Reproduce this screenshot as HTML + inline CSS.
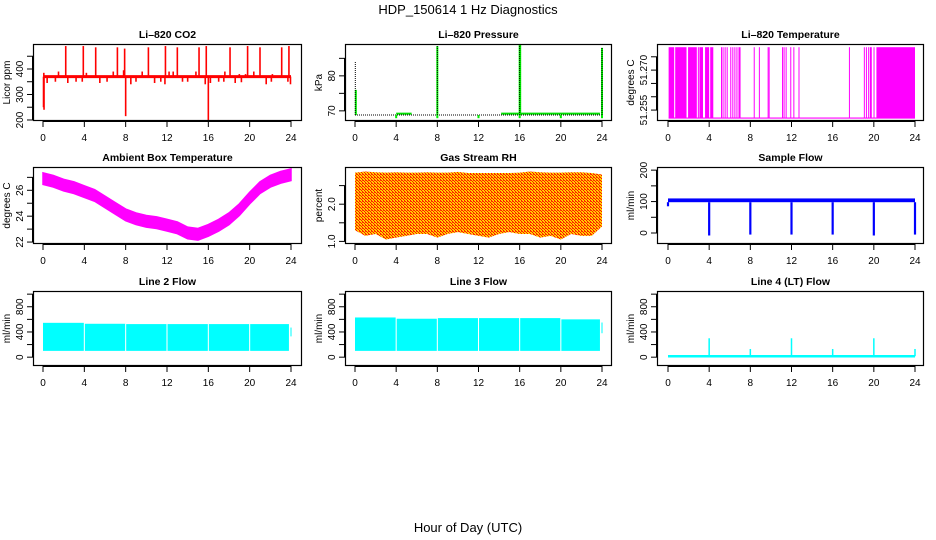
<!DOCTYPE html>
<html><head><meta charset="utf-8"><title>HDP_150614 1 Hz Diagnostics</title>
<style>
html,body{margin:0;padding:0;background:#fff;}
svg{display:block;font-family:"Liberation Sans",Arial,sans-serif;}
</style></head>
<body>
<svg id="chart" width="936" height="540" viewBox="0 0 936 540">
<defs>
<pattern id="rhpat" width="3" height="3" patternUnits="userSpaceOnUse">
<rect width="3" height="3" fill="#ffd000"/>
<rect x="0" y="0" width="1" height="1" fill="#ff1000"/>
<rect x="1" y="1" width="1" height="1" fill="#ff1000"/>
<rect x="2" y="2" width="1" height="1" fill="#ff1000"/>
<rect x="2" y="0" width="1" height="1" fill="#ff4000"/>
</pattern>
</defs>
<text x="468" y="14" text-anchor="middle" font-size="13">HDP_150614  1 Hz Diagnostics</text>
<text x="468" y="532" text-anchor="middle" font-size="13">Hour of Day (UTC)</text>
</svg>
<script>
// ---------- data ----------
const xTicks = [0,4,8,12,16,20,24];

const co2Base = 370;
const co2EventHours  = [0.05,0.08,0.1,0.4,1.2,1.5,2.2,2.4,3.2,3.8,3.9,4.2,5.1,5.5,6.2,6.8,7.2,7.8,7.9,8.0,8.5,9.0,9.6,10.2,10.8,11.4,11.8,11.85,12.2,12.6,13.0,13.5,14.0,14.8,15.1,15.7,15.8,16.0,16.2,17.0,17.5,17.6,18.1,18.6,19.0,19.2,19.6,19.8,20.4,21.0,21.6,22.1,22.2,23.1,23.7,23.8,23.95];
const co2EventValues = [250,385,240,345,350,390,490,345,350,350,490,385,485,345,350,390,485,395,480,215,340,350,390,485,345,350,340,490,390,390,485,350,350,390,485,340,490,200,345,350,350,390,485,345,380,348,380,490,390,485,340,350,380,485,350,490,340];

const presBase = 68.8;
const presGreenStarts = [4.0,14.2];
const presGreenEnds   = [5.5,23.8];
const presGreenValue  = 69.2;
const presSpikeHours  = [0.08,8.0,16.0,16.05,24.0];
const presSpikeValues = [76,88.5,89,89,88];
const presBlackSpikeHours  = [0.03,8.0,16.0,24.0];
const presBlackSpikeValues = [84,88.5,89,88];
const presDipHours = [4,8,12,16,20,24];
const presDipValues = [67.9,67.9,67.9,67.9,67.9,67.9];

const tempLow = 51.252, tempHigh = 51.2786;
const tempStarts = [0.06,0.7,1.95,2.9,3.05,3.6,4.1,5.15,5.3,5.5,5.7,6.05,6.25,6.45,6.65,6.85,6.95,8.33,8.83,9.68,9.78,11.08,11.23,11.43,11.88,12.18,12.68,17.58,19.03,19.23,19.45,19.62,19.97,20.25];
const tempEnds   = [0.6,1.8,2.8,3.0,3.4,4.0,4.4,5.2,5.35,5.6,5.8,6.1,6.3,6.5,6.7,6.9,7.05,8.38,8.88,9.73,9.83,11.13,11.28,11.48,11.93,12.23,12.73,17.63,19.08,19.28,19.55,19.8,20.02,24.0];

const ambHours  = [0,1,2,3,4,5,6,7,8,9,10,11,12,13,14,15,16,17,18,19,20,21,22,23,24];
const ambValues = [26.9,26.7,26.4,26.2,25.9,25.6,25.1,24.6,24.1,23.8,23.6,23.5,23.3,23.1,22.7,22.6,22.9,23.3,23.8,24.5,25.4,26.2,26.7,27.0,27.2];

const rhHours  = [0,1,2,3,4,5,6,7,8,9,10,11,12,13,14,15,16,17,18,19,20,21,22,23,24];
const rhTop    = [2.85,2.88,2.86,2.85,2.86,2.85,2.85,2.86,2.85,2.85,2.87,2.84,2.84,2.84,2.84,2.84,2.85,2.88,2.86,2.85,2.85,2.86,2.86,2.84,2.8];
const rhBottom = [1.3,1.15,1.2,1.05,1.1,1.15,1.2,1.2,1.1,1.2,1.25,1.2,1.15,1.1,1.2,1.25,1.2,1.2,1.1,1.15,1.05,1.2,1.15,1.15,1.4];

const sfLow = 98, sfHigh = 110;
const sfDipHours  = [0.0,4.0,8.0,12.0,16.0,20.0,24.0];
const sfDipValues = [85,-8,-5,-5,-5,-8,-5];

const l2Starts = [0.0,4.05,8.05,12.05,16.05,20.05,23.95];
const l2Ends   = [3.95,7.95,11.95,15.95,19.95,23.8,24.05];
const l2Top    = [545,530,525,525,525,525,470];
const l2Bottom = [100,100,100,100,100,100,330];

const l3Starts = [0.0,4.05,8.05,12.05,16.05,20.05,23.95];
const l3Ends   = [3.95,7.95,11.95,15.95,19.95,23.8,24.05];
const l3Top    = [630,610,620,620,620,600,550];
const l3Bottom = [100,100,100,100,100,100,380];

const l4Base = 15;
const l4SpikeHours  = [4.0,8.0,12.0,16.0,20.0,24.0];
const l4SpikeValues = [300,130,300,130,300,130];

// ---------- layout ----------
const svg = document.getElementById('chart');
const NS = 'http://www.w3.org/2000/svg';
function el(tag, attrs, parent){
  const e = document.createElementNS(NS, tag);
  for (const k in attrs) e.setAttribute(k, attrs[k]);
  (parent||svg).appendChild(e);
  return e;
}
const cols = [{l:33,r:302,x0:43,x24:291},{l:345,r:612,x0:355,x24:602},{l:657,r:924,x0:668,x24:915}];
const rows = [{t:44,b:121},{t:167,b:244},{t:291,b:366}];

function panel(ci, ri, ymin, ymax, yticks, ylabels, title, ylab, name){
  const c = cols[ci], r = rows[ri];
  const g = el('g', {});
  
  
  const sx = h => c.x0 + (h/24)*(c.x24-c.x0);
  const sy = v => r.b - (v-ymin)/(ymax-ymin)*(r.b-r.t);
  const plot = el('g', {}, g);
  
  
  const clipId = 'clip'+ci+ri;
  const cp = el('clipPath', {id:clipId}, g);
  el('rect', {x:c.l, y:r.t, width:c.r-c.l, height:r.b-r.t}, cp);
  plot.setAttribute('clip-path', 'url(#'+clipId+')');
  const box = el('rect', {x:c.l+0.5, y:r.t+0.5, width:c.r-c.l-1, height:r.b-r.t-1, fill:'none', stroke:'#000', 'stroke-width':1.2}, g);
  
  
  const t = el('text', {x:(c.l+c.r)/2, y:r.t-6, 'text-anchor':'middle', 'font-size':10.5, 'font-weight':'bold'}, g);
  t.textContent = title;
  
  
  const xa = el('g', {}, g);
  
  
  el('line', {x1:sx(0), x2:sx(24), y1:r.b+0.5, y2:r.b+0.5, stroke:'#000'}, xa);
  xTicks.forEach(h => {
    el('line', {x1:sx(h), x2:sx(h), y1:r.b, y2:r.b+6, stroke:'#000'}, xa);
    const tl = el('text', {x:sx(h), y:r.b+20, 'text-anchor':'middle', 'font-size':10}, xa);
    tl.textContent = h;
    
    
  });
  const ya = el('g', {}, g);
  
  
  el('line', {x1:c.l-0.5, x2:c.l-0.5, y1:sy(yticks[0]), y2:sy(yticks[yticks.length-1]), stroke:'#000'}, ya);
  yticks.forEach(v => el('line', {x1:c.l-6, x2:c.l, y1:sy(v), y2:sy(v), stroke:'#000'}, ya));
  ylabels.forEach(v => {
    const y = sy(v);
    const tl = el('text', {transform:'translate('+(c.l-10)+','+y+') rotate(-90)', 'text-anchor':'middle', 'font-size':10}, ya);
    tl.textContent = v;
    
    
  });
  const yl = el('text', {transform:'translate('+(c.l-23)+','+((r.t+r.b)/2)+') rotate(-90)', 'text-anchor':'middle', 'font-size':10}, g);
  yl.textContent = ylab;
  
  
  return {sx, sy, g:plot};
}
function vline(p, h, v1, v2, color, w, parent){
  return el('line', {x1:p.sx(h), x2:p.sx(h), y1:p.sy(v1), y2:p.sy(v2), stroke:color, 'stroke-width':w}, parent||p.g);
}

(function(){
  const p = panel(0,0,196,498,[200,250,300,350,400,450],['200','300','400'],'Li\u2013820 CO2','Licor ppm','co2');
  const b = el('line', {x1:p.sx(0.05), x2:p.sx(24), y1:p.sy(co2Base), y2:p.sy(co2Base), stroke:'#ff0000', 'stroke-width':3}, p.g);
  
  
  co2EventHours.forEach((h,i) => {
    const l = vline(p, h, co2Base, co2EventValues[i], '#ff0000', 1.6);
    
    
  });
})();

(function(){
  const p = panel(1,0,67.1,89.1,[70,75,80,85],['70','80'],'Li\u2013820 Pressure','kPa','pressure');
  presGreenStarts.forEach((s,i) => {
    const l = el('line', {x1:p.sx(s), x2:p.sx(presGreenEnds[i]), y1:p.sy(presGreenValue), y2:p.sy(presGreenValue), stroke:'#00dd00', 'stroke-width':2}, p.g);
    
    
  });
  const base = el('line', {x1:p.sx(0), x2:p.sx(24), y1:p.sy(presBase), y2:p.sy(presBase), stroke:'#000', 'stroke-width':1, 'stroke-dasharray':'1,1'}, p.g);
  
  
  presSpikeHours.forEach((h,i) => {
    const l = vline(p, h, presBase, presSpikeValues[i], '#00ee00', 2);
    
    
  });
  presBlackSpikeHours.forEach((h,i) => {
    const l = el('line', {x1:p.sx(h), x2:p.sx(h), y1:p.sy(presBase), y2:p.sy(presBlackSpikeValues[i]), stroke:'#000', 'stroke-width':1, 'stroke-dasharray':'1,1'}, p.g);
    
    
  });
  presDipHours.forEach((h,i) => {
    const l = vline(p, h, presBase, presDipValues[i], '#00ee00', 2);
    
    
  });
})();

(function(){
  const p = panel(2,0,51.2509,51.2798,[51.255,51.26,51.265,51.27,51.275],['51.255','51.270'],'Li\u2013820 Temperature','degrees C','li820-temperature');
  const base = el('line', {x1:p.sx(0.06), x2:p.sx(24), y1:p.sy(tempLow), y2:p.sy(tempLow), stroke:'#ff00ff', 'stroke-width':1.2}, p.g);
  
  
  tempStarts.forEach((s,i) => {
    const x1 = p.sx(s), x2 = Math.max(p.sx(tempEnds[i]), x1+1);
    const r = el('rect', {x:x1, y:p.sy(tempHigh), width:x2-x1, height:p.sy(tempLow)-p.sy(tempHigh), fill:'#ff00ff'}, p.g);
    
    
  });
})();

(function(){
  const p = panel(0,1,21.85,27.8,[22,23,24,25,26,27],['22','24','26'],'Ambient Box Temperature','degrees C','ambient-temperature');
  let up = '', dn = '';
  ambHours.forEach((h,i) => { up += p.sx(h)+','+p.sy(ambValues[i]+0.45)+' '; });
  for (let i = ambHours.length-1; i >= 0; i--) dn += p.sx(ambHours[i])+','+p.sy(ambValues[i]-0.45)+' ';
  const poly = el('polygon', {points:up+dn, fill:'#ff00ff', stroke:'#ff00ff', 'stroke-width':1.5}, p.g);
  
  
})();

(function(){
  const p = panel(1,1,0.93,3.0,[1.0,1.5,2.0,2.5],['1.0','2.0'],'Gas Stream RH','percent','gas-stream-rh');
  let up = '', dn = '';
  rhHours.forEach((h,i) => { up += p.sx(h)+','+p.sy(rhTop[i])+' '; });
  for (let i = rhHours.length-1; i >= 0; i--) dn += p.sx(rhHours[i])+','+p.sy(rhBottom[i])+' ';
  const poly = el('polygon', {points:up+dn, fill:'url(#rhpat)'}, p.g);
  
  
})();

(function(){
  const p = panel(2,1,-35,210,[0,50,100,150,200],['0','100','200'],'Sample Flow','ml/min','sample-flow');
  const r = el('rect', {x:p.sx(0), y:p.sy(sfHigh), width:p.sx(24)-p.sx(0), height:p.sy(sfLow)-p.sy(sfHigh), fill:'#0000ff'}, p.g);
  
  
  sfDipHours.forEach((h,i) => {
    const l = vline(p, h, sfLow, sfDipValues[i], '#0000ff', 2.2);
    
    
  });
})();

function flowBands(ci, title, name, starts, ends, tops, bottoms){
  const p = panel(ci,2,-140,1050,[0,200,400,600,800,1000],['0','400','800'],title,'ml/min',name);
  starts.forEach((s,i) => {
    const r = el('rect', {x:p.sx(s), y:p.sy(tops[i]), width:p.sx(ends[i])-p.sx(s), height:p.sy(bottoms[i])-p.sy(tops[i]), fill:'#00ffff'}, p.g);
    
    
  });
}
flowBands(0,'Line 2 Flow','line2-flow',l2Starts,l2Ends,l2Top,l2Bottom);
flowBands(1,'Line 3 Flow','line3-flow',l3Starts,l3Ends,l3Top,l3Bottom);

(function(){
  const p = panel(2,2,-140,1050,[0,200,400,600,800,1000],['0','400','800'],'Line 4 (LT) Flow','ml/min','line4-flow');
  const b = el('line', {x1:p.sx(0), x2:p.sx(24), y1:p.sy(l4Base), y2:p.sy(l4Base), stroke:'#00ffff', 'stroke-width':2.5}, p.g);
  
  
  l4SpikeHours.forEach((h,i) => {
    const l = vline(p, h, l4Base, l4SpikeValues[i], '#00ffff', 1.5);
    
    
  });
})();
</script>
</body></html>
